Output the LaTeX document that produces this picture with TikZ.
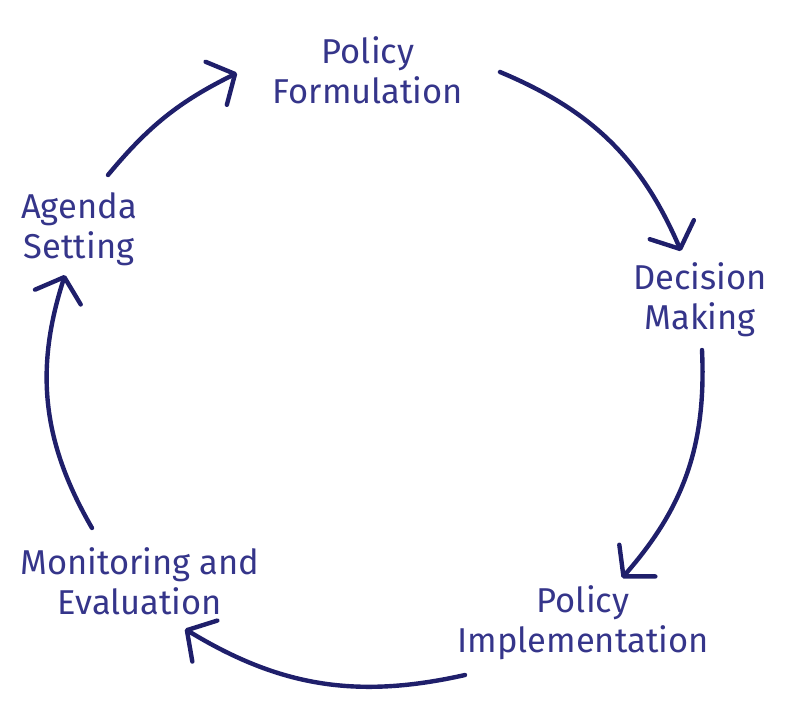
\documentclass[tikz,border=0pt]{standalone}
\usepackage{fontspec}
\setmainfont{Fira Sans}
\usetikzlibrary{arrows.meta}
\definecolor{navy}{HTML}{1F1F6B}
\definecolor{labelblue}{HTML}{35358A}
\tikzset{
  lbl/.style={align=center, text=labelblue, font=\fontsize{34.5}{40}\selectfont, inner sep=0pt},
  cyc/.style={draw=navy, line width=4.4pt, line cap=round,
    -{Straight Barb[length=21pt, width=48pt, line width=4.4pt, round]}}
}
\begin{document}
\begin{tikzpicture}[x=1pt,y=1pt]
\useasboundingbox (0,0) rectangle (802,-718);
\node[lbl] (form) at (368,-70) {Policy\\Formulation};
\node[lbl] (agenda) at (79,-229) {Agenda\\Setting};
\node[lbl] (decision) at (700,-300) {Decision\\Making};
\node[lbl] (impl) at (583,-623) {Policy\\Implementation};
\node[lbl] (monitor) at (140,-581) {Monitoring and\\Evaluation};
\coordinate (a1s) at (108,-175);
\coordinate (a1e) at (237,-73);
\coordinate (a2s) at (500,-72);
\coordinate (a2e) at (681,-251);
\coordinate (a3s) at (702,-350);
\coordinate (a3e) at (622,-578);
\coordinate (a4s) at (465,-675);
\coordinate (a4e) at (185,-629);
\coordinate (a5s) at (92,-528);
\coordinate (a5e) at (65,-275);
\draw[cyc] (a1s) to[bend left=12] (a1e);
\draw[cyc] (a2s) to[bend left=22] (a2e);
\draw[cyc] (a3s) to[bend left=22] (a3e);
\draw[cyc] (a4s) to[bend left=22] (a4e);
\draw[cyc] (a5s) to[bend left=24] (a5e);
\end{tikzpicture}
\end{document}
